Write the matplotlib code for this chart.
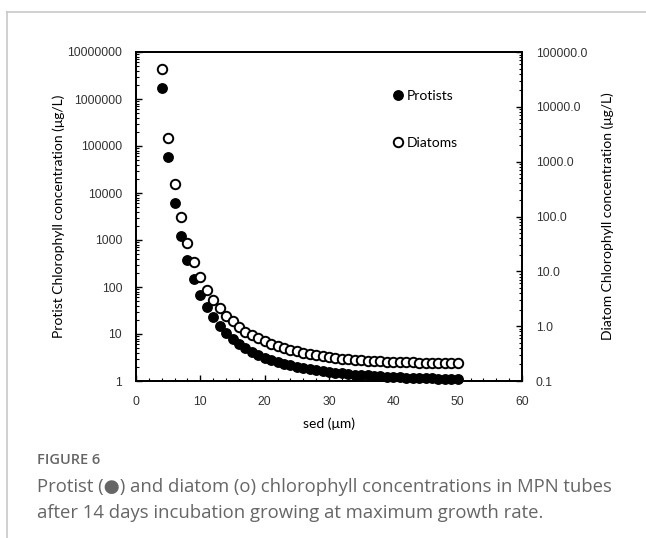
import numpy as np
import matplotlib
matplotlib.use('Agg')
import matplotlib.pyplot as plt
from matplotlib.ticker import FixedLocator, FuncFormatter, LogLocator, MultipleLocator, NullFormatter
from matplotlib.lines import Line2D

# sediment size (um)
sed = list(range(4, 51))

# protist chlorophyll (ug/L), left axis
protists = [1.7e6, 5.8e4, 6100, 1220, 375, 148, 67, 37.5, 23, 14.8, 10.5, 7.8, 6.1, 5.0,
            4.14, 3.57, 3.09, 2.80, 2.54, 2.30, 2.14, 1.99, 1.89, 1.80, 1.71, 1.63, 1.55,
            1.50, 1.46, 1.41, 1.37, 1.34, 1.31, 1.28, 1.26, 1.23, 1.22, 1.20, 1.18, 1.17,
            1.16, 1.15, 1.14, 1.13, 1.12, 1.12, 1.11]

# diatom chlorophyll (ug/L), right axis
diatoms = [4.9e4, 2700, 390, 98, 33, 14.8, 7.9, 4.6, 3.0, 2.15, 1.55, 1.24, 0.97,
           0.79, 0.69, 0.60, 0.54, 0.47, 0.435, 0.40, 0.368, 0.348, 0.328, 0.311, 0.298,
           0.286, 0.274, 0.263, 0.255, 0.249, 0.245, 0.239, 0.235, 0.229, 0.229, 0.225,
           0.222, 0.222, 0.219, 0.219, 0.216, 0.216, 0.215, 0.215, 0.214, 0.214, 0.213]

left_ticks = [1, 10, 100, 1000, 10000, 100000, 1000000, 10000000]
right_ticks = [0.1, 1, 10, 100, 1000, 10000, 100000]

W, H = 646, 538
fig = plt.figure(figsize=(W / 100, H / 100), dpi=100)
fig.patch.set_facecolor('white')

# page frame (grey lines left and top)
fig.add_artist(Line2D([7 / W, 7 / W], [0, 1 - 12 / H], color='#c8c8c8', lw=1.2))
fig.add_artist(Line2D([7 / W, 1], [1 - 12 / H, 1 - 12 / H], color='#c8c8c8', lw=1.2))

ax = fig.add_axes([136 / W, 1 - 381 / H, (522 - 136) / W, (381 - 52) / H])
ax2 = ax.twinx()

tickfont = 'Liberation Sans'
labfont = 'Lato'

p1, = ax.plot(sed, protists, 'o', color='black', markersize=6.8, label='Protists', clip_on=False)
p2, = ax2.plot(sed, diatoms, 'o', markerfacecolor='white', markeredgecolor='black',
               markeredgewidth=1.4, markersize=6.8, label='Diatoms', clip_on=False)

ax.set_yscale('log')
ax2.set_yscale('log')
ax.set_xlim(0, 60)
ax.set_ylim(1, 1e7)
ax2.set_ylim(0.1, 1e5)

ax.xaxis.set_major_locator(MultipleLocator(10))
ax.xaxis.set_minor_locator(MultipleLocator(2))
ax.yaxis.set_major_locator(FixedLocator(left_ticks))
ax.yaxis.set_minor_locator(LogLocator(base=10, subs=np.arange(2, 10)))
ax.yaxis.set_minor_formatter(NullFormatter())
ax.yaxis.set_major_formatter(FuncFormatter(lambda v, p: '%d' % round(v)))
ax2.yaxis.set_major_locator(FixedLocator(right_ticks))
ax2.yaxis.set_minor_locator(LogLocator(base=10, subs=np.arange(2, 10)))
ax2.yaxis.set_minor_formatter(NullFormatter())
ax2.yaxis.set_major_formatter(FuncFormatter(lambda v, p: '%.1f' % v))

for a in (ax, ax2):
    a.tick_params(which='major', direction='in', length=4, width=1, labelsize=8.7, pad=10, colors='black')
    a.tick_params(which='minor', direction='in', length=2.5, width=0.8)
    for s in a.spines.values():
        s.set_linewidth(1.3)
    for lab in a.get_xticklabels() + a.get_yticklabels():
        lab.set_fontfamily(tickfont)
        lab.set_color('#333333')
ax.tick_params(axis='x', pad=11)

ax.set_xlabel('sed (\u03bcm)', fontfamily=labfont, fontsize=10, labelpad=6.5)
ax.set_ylabel('Protist Chlorophyll concentration (\u03bcg/L)', fontfamily=labfont, fontsize=10, labelpad=1.5)
ax2.set_ylabel('Diatom Chlorophyll concentration (\u03bcg/L)', fontfamily=labfont, fontsize=10, labelpad=10)

ax2.legend(handles=[p1, p2], loc='upper left', bbox_to_anchor=(394 / W, 1 - 90 / H),
           bbox_transform=fig.transFigure, frameon=False, borderpad=0, borderaxespad=0,
           handlelength=0.6, handletextpad=0.3, labelspacing=2.5,
           prop={'family': labfont, 'size': 10})

fig.text(37 / W, 1 - 460 / H, 'FIGURE 6', fontfamily='Open Sans', fontweight='semibold',
         fontsize=10.5, color='#666666', va='center')
fig.text(37 / W, 1 - 500 / H,
         'Protist (\u25cf) and diatom (o) chlorophyll concentrations in MPN tubes\n'
         'after 14 days incubation growing at maximum growth rate.',
         fontfamily=['Open Sans', 'DejaVu Sans'], fontsize=13.3, color='#666666', va='center',
         linespacing=1.5)

fig.savefig('out.png', dpi=100)
